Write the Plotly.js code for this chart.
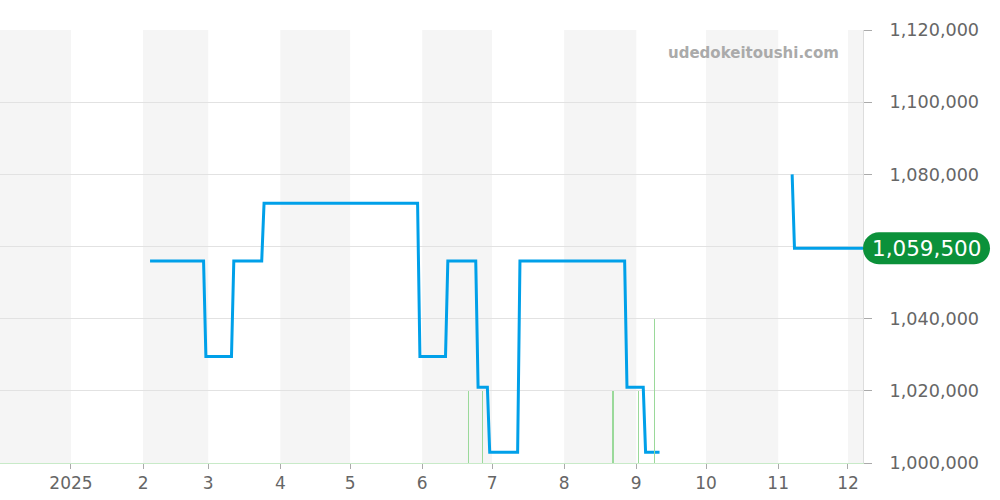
<!DOCTYPE html>
<html>
<head>
<meta charset="utf-8">
<script src="https://cdn.plot.ly/plotly-3.0.1.min.js"></script>
<style>html,body{margin:0;padding:0;background:#fff;}#chart{width:1000px;height:500px;}</style>
</head>
<body>
<div id="chart"></div>
<script>
// Price series (step changes; null marks the gap)
var priceDates = ['2025-02-04','2025-02-27','2025-02-28','2025-03-11','2025-03-12','2025-03-24','2025-03-25',
  '2025-05-30','2025-05-31','2025-06-11','2025-06-12','2025-06-24','2025-06-25','2025-06-29','2025-06-30',
  '2025-07-12','2025-07-13','2025-08-27','2025-08-28','2025-09-04','2025-09-05','2025-09-11',
  '2025-10-01','2025-11-07','2025-11-08','2025-12-10'];
var priceValues = [1056000,1056000,1029500,1029500,1056000,1056000,1072000,
  1072000,1029500,1029500,1056000,1056000,1021000,1021000,1003000,
  1003000,1056000,1056000,1021000,1021000,1003000,1003000,
  null,1080000,1059500,1059500];

// Volume bars (counts)
var volumeDates = ['2025-06-21','2025-06-27','2025-08-22','2025-09-02','2025-09-09'];
var volumeCounts = [1,1,1,1,2];

// Month boundaries and tick labels
var monthStarts = ['2024-12-01','2025-01-01','2025-02-01','2025-03-01','2025-04-01','2025-05-01','2025-06-01',
  '2025-07-01','2025-08-01','2025-09-01','2025-10-01','2025-11-01','2025-12-01','2026-01-01'];
var tickVals = ['2025-01-01','2025-02-01','2025-03-01','2025-04-01','2025-05-01','2025-06-01',
  '2025-07-01','2025-08-01','2025-09-01','2025-10-01','2025-11-01','2025-12-01'];
var tickText = ['2025','2','3','4','5','6','7','8','9','10','11','12'];

// Price axis ticks (1,060,000 is hidden behind the last-price label in the original)
var priceTickVals = [1000000,1020000,1040000,1060000,1080000,1100000,1120000];
var priceTickText = ['1,000,000','1,020,000','1,040,000','','1,080,000','1,100,000','1,120,000'];

var lastPrice = 1059500;
var lastLabel = '1,059,500';
var watermark = 'udedokeitoushi.com';

var FONT = 'DejaVu Sans, sans-serif';

var shapes = [];
for (var i = 0; i < monthStarts.length - 1; i += 2) {
  shapes.push({type:'rect', xref:'x', yref:'paper', x0:monthStarts[i], x1:monthStarts[i+1], y0:0, y1:1,
    fillcolor:'#f5f5f5', line:{width:0}, layer:'below'});
}
// rounded label box anchored at last price
var w = 127, h = 16, r = 16, k = 8.8;
var path = 'M ' + r + ',' + (-h) + ' L ' + (w - r) + ',' + (-h) +
  ' C ' + (w - r + k) + ',' + (-h) + ' ' + w + ',' + (-k) + ' ' + w + ',0' +
  ' C ' + w + ',' + k + ' ' + (w - r + k) + ',' + h + ' ' + (w - r) + ',' + h +
  ' L ' + r + ',' + h +
  ' C ' + (r - k) + ',' + h + ' 0,' + k + ' 0,0' +
  ' C 0,' + (-k) + ' ' + (r - k) + ',' + (-h) + ' ' + r + ',' + (-h) + ' Z';
shapes.push({type:'path', xref:'paper', yref:'y', xsizemode:'pixel', ysizemode:'pixel',
  xanchor:1, yanchor:lastPrice, path:path, fillcolor:'#0b913a', line:{width:0}, layer:'above'});

var traces = [
  {type:'bar', x:volumeDates, y:volumeCounts, yaxis:'y2', width:86400000*0.45,
   marker:{color:'#9ad99a', line:{width:0}}, hoverinfo:'skip', showlegend:false},
  {type:'scatter', mode:'lines', x:priceDates, y:priceValues, connectgaps:false,
   line:{color:'#00a0e9', width:3}, showlegend:false, cliponaxis:true}
];

var layout = {
  width:1000, height:500,
  margin:{l:0, r:137, t:30, b:37},
  paper_bgcolor:'#ffffff', plot_bgcolor:'#ffffff',
  showlegend:false,
  xaxis:{type:'date', range:['2024-12-01 12:00','2025-12-07 11:00'],
    tickvals:tickVals, ticktext:tickText, ticks:'outside', ticklen:5, tickcolor:'#aaaaaa',
    tickfont:{family:FONT, size:17, color:'#666666'}, showgrid:false, zeroline:false,
    showline:true, linecolor:'#c8eac8', linewidth:1, fixedrange:true},
  yaxis:{side:'right', range:[1000000,1120000], tickmode:'array',
    tickvals:priceTickVals, ticktext:priceTickText,
    ticks:'outside', ticklen:8, tickcolor:'#aaaaaa', ticklabelstandoff:14,
    tickfont:{family:FONT, size:17.6, color:'#666666'}, gridcolor:'#e2e2e2', zeroline:false,
    showline:true, linecolor:'#dddddd', linewidth:1},
  yaxis2:{overlaying:'y', range:[0,6], visible:false, showgrid:false, zeroline:false},
  bargap:0,
  shapes:shapes,
  annotations:[
    {xref:'paper', yref:'y', x:1, y:lastPrice, xanchor:'center', yanchor:'middle', xshift:63.5,
     text:lastLabel, showarrow:false, font:{family:FONT, size:21.5, color:'#ffffff'}},
    {xref:'paper', yref:'paper', x:0.9745, y:0.947, xanchor:'right', yanchor:'middle',
     text:'<b>' + watermark + '</b>', showarrow:false, font:{family:FONT, size:15, color:'#aaaaaa'}}
  ]
};

Plotly.newPlot('chart', traces, layout, {displayModeBar:false, staticPlot:true});
</script>
</body>
</html>
